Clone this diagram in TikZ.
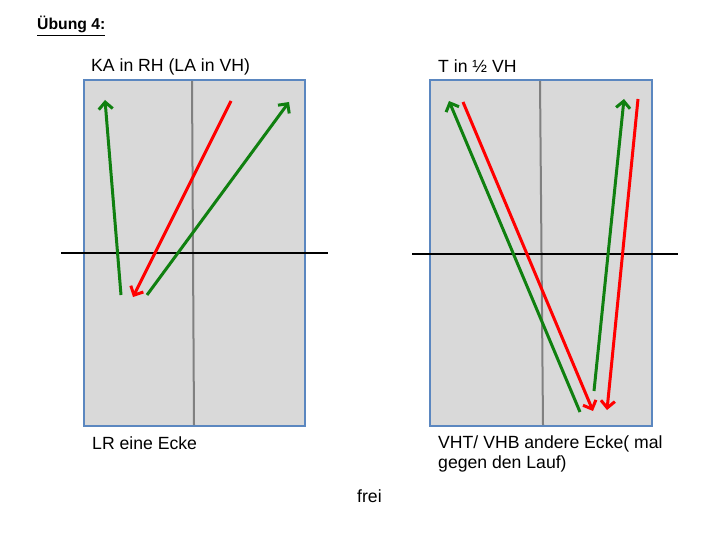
\documentclass[tikz,border=0pt]{standalone}
\usepackage{fontspec}
\setmainfont{Liberation Sans}
\usetikzlibrary{arrows.meta}
\definecolor{boxfill}{RGB}{217,217,217}
\definecolor{boxline}{RGB}{91,135,192}
\definecolor{midline}{RGB}{128,128,128}
\definecolor{grn}{RGB}{16,128,16}
\definecolor{rd}{RGB}{255,0,0}
\tikzset{
  panel/.style={draw=boxline, fill=boxfill, line width=1.4bp},
  vline/.style={draw=midline, line width=2bp},
  hline/.style={draw=black, line width=2bp},
  garrow/.style={draw=grn, line width=3bp, -{Straight Barb[length=7bp,width=14bp,line width=3bp]}},
  rarrow/.style={draw=rd, line width=3bp, -{Straight Barb[length=7bp,width=14bp,line width=3bp]}},
  lbl/.style={anchor=base west, inner sep=0pt, font=\fontsize{17.7}{20}\selectfont},
}
\begin{document}
\begin{tikzpicture}[x=1bp,y=-1bp]
\useasboundingbox (0,0) rectangle (720,540);
% title
\node[anchor=base west, inner sep=0pt, font=\fontsize{15.8}{18}\selectfont\bfseries] (title) at (37,30) {\underline{Übung 4:}};

% ---------- left panel ----------
\path[panel] (84,80) rectangle (305,426);
\coordinate (LT) at (192,81); \coordinate (LB) at (194,425);
\draw[vline] (LT) -- (LB);
\coordinate (LH1) at (61,253); \coordinate (LH2) at (328,253);
\draw[hline] (LH1) -- (LH2);
\node[lbl] (ltop) at (91,72) {KA in RH (LA in VH)};
\node[lbl] (lbot) at (92,449) {LR eine Ecke};

\coordinate (g1s) at (121,295); \coordinate (g1e) at (105,100);
\coordinate (r1s) at (231,101); \coordinate (r1e) at (133,297);
\coordinate (g2s) at (147,295); \coordinate (g2e) at (289,102);
\draw[garrow] (g1s) -- (g1e);
\draw[rarrow] (r1s) -- (r1e);
\draw[garrow] (g2s) -- (g2e);

% ---------- right panel ----------
\path[panel] (430,80) rectangle (652,426);
\coordinate (RT) at (540,81); \coordinate (RB) at (543,425);
\draw[vline] (RT) -- (RB);
\coordinate (RH1) at (412,254); \coordinate (RH2) at (678,254);
\draw[hline] (RH1) -- (RH2);
\node[lbl] (rtop) at (438,73) {T in ½ VH};
\node[lbl] (rbot1) at (438,448) {VHT/ VHB andere Ecke( mal};
\node[lbl] (rbot2) at (438,468) {gegen den Lauf)};

\coordinate (g3s) at (580,412); \coordinate (g3e) at (449,101);
\coordinate (r3s) at (463,102); \coordinate (r3e) at (593,411);
\coordinate (g4s) at (594,391); \coordinate (g4e) at (624,99);
\coordinate (r4s) at (638,99); \coordinate (r4e) at (607,410);
\draw[garrow] (g3s) -- (g3e);
\draw[rarrow] (r3s) -- (r3e);
\draw[garrow] (g4s) -- (g4e);
\draw[rarrow] (r4s) -- (r4e);

\node[lbl] (frei) at (357,502) {frei};
\end{tikzpicture}
\end{document}
